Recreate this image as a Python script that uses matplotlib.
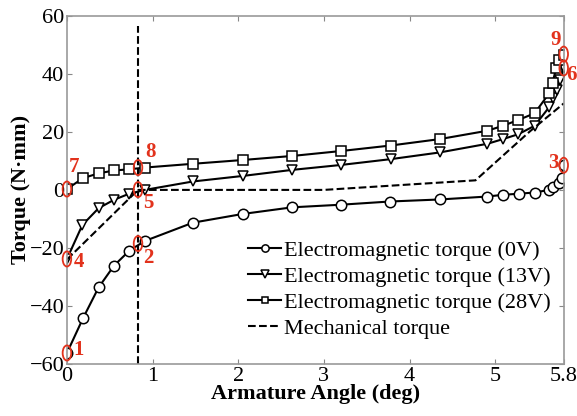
import matplotlib
matplotlib.use("Agg")
from matplotlib import pyplot as plt
from matplotlib.patches import Ellipse

plt.rcParams['font.family'] = ['Liberation Serif', 'DejaVu Serif']

# 0V electromagnetic torque
x0 = [0, 0.19, 0.37, 0.55, 0.73, 0.91, 1.47, 2.05, 2.63, 3.2, 3.77, 4.35,
      4.9, 5.09, 5.28, 5.46, 5.63, 5.68, 5.74, 5.78, 5.8]
y0 = [-56.2, -44.1, -33.6, -26.1, -20.9, -17.6, -11.3, -8.3, -6.0, -5.1, -4.0, -3.3,
      -2.3, -1.7, -1.3, -0.9, 0.0, 1.0, 2.4, 4.1, 8.5]
# 13V
x13 = [0, 0.18, 0.37, 0.55, 0.72, 0.91, 1.47, 2.05, 2.63, 3.2, 3.78, 4.35,
       4.91, 5.09, 5.27, 5.46, 5.63, 5.68, 5.72, 5.76, 5.8]
y13 = [-23.8, -12.1, -6.3, -3.4, -1.4, 0.0, 2.9, 4.8, 6.9, 8.6, 10.6, 12.9,
       15.9, 17.5, 19.2, 22.1, 28.5, 31.6, 34.5, 37.9, 42.0]
# 28V
x28 = [0, 0.19, 0.37, 0.55, 0.73, 0.91, 1.47, 2.05, 2.63, 3.2, 3.78, 4.35,
       4.91, 5.09, 5.27, 5.46, 5.63, 5.67, 5.71, 5.74, 5.8]
y28 = [0.3, 4.1, 5.7, 6.7, 7.1, 7.7, 9.0, 10.3, 11.7, 13.4, 15.3, 17.5,
       20.4, 22.1, 24.1, 26.4, 33.3, 36.8, 42.0, 44.8, 46.6]
# mechanical
xm = [0, 0.83, 3.0, 4.77, 5.41, 5.8]
ym = [-24, 0, 0, 3.3, 20.3, 29.8]

# marked points
mark_x = [0, 0.83, 5.8, 0, 0.83, 5.8, 0, 0.83, 5.8]
mark_y = [-56.2, -18.5, 8.5, -23.8, 0.1, 42.0, 0.3, 7.7, 46.8]
mark_lbl = ['1', '2', '3', '4', '5', '6', '7', '8', '9']
lbl_off = [(0.14, 1.0), (0.12, -5.0), (-0.12, 0.6), (0.14, -1.2), (0.12, -4.7),
           (0.09, -2.5), (0.08, 7.6), (0.14, 5.4), (-0.1, 5.0)]

fig, ax = plt.subplots(figsize=(5.77, 4.16), dpi=100)
fig.subplots_adjust(left=0.116, right=0.977, top=0.962, bottom=0.125)

ax.plot(x0, y0, 'k-', marker='o', mfc='white', mec='k', ms=7.5, mew=1.1, lw=1.5,
        label='Electromagnetic torque (0V)')
ax.plot(x13, y13, 'k-', marker='v', mfc='white', mec='k', ms=7.5, mew=1.1, lw=1.5,
        label='Electromagnetic torque (13V)')
ax.plot(x28, y28, 'k-', marker='s', mfc='white', mec='k', ms=6.5, mew=1.1, lw=1.5,
        label='Electromagnetic torque (28V)')
ax.plot(xm, ym, 'k--', lw=1.5, label='Mechanical torque')
ax.plot([0.83, 0.83], [-60, 56.5], 'k--', lw=1.5)

red = '#e2321c'
for mx, my, t, (dx, dy) in zip(mark_x, mark_y, mark_lbl, lbl_off):
    ax.add_patch(Ellipse((mx, my), 0.1, 5.2, fill=False, ec=red, lw=1.3,
                         clip_on=False, zorder=5))
    ax.text(mx + dx, my + dy, t, color=red, fontsize=15, fontweight='bold',
            ha='center', va='center', zorder=6)

ax.set_xlim(0, 5.8)
ax.set_ylim(-60, 60)
ax.set_xticks([0, 1, 2, 3, 4, 5, 5.8])
ax.set_xticklabels(['0', '1', '2', '3', '4', '5', '5.8'])
ax.set_yticks([-60, -40, -20, 0, 20, 40, 60])
ax.tick_params(direction='in', top=True, right=True, labelsize=16, color='#888888',
               pad=2)
for s in ax.spines.values():
    s.set_color('#999999')
    s.set_linewidth(1.2)
ax.set_xlabel('Armature Angle (deg)', fontsize=16, fontweight='bold', labelpad=-1)
ax.set_ylabel('Torque (N·mm)', fontsize=16, fontweight='bold', labelpad=-1)

ax.legend(loc='lower right', frameon=False, fontsize=16, handlelength=1.5,
          handletextpad=0.1, labelspacing=0.25, markerscale=0.7,
          borderaxespad=0.2, bbox_to_anchor=(1.0, 0.033))

fig.savefig('out.png', dpi=100)
